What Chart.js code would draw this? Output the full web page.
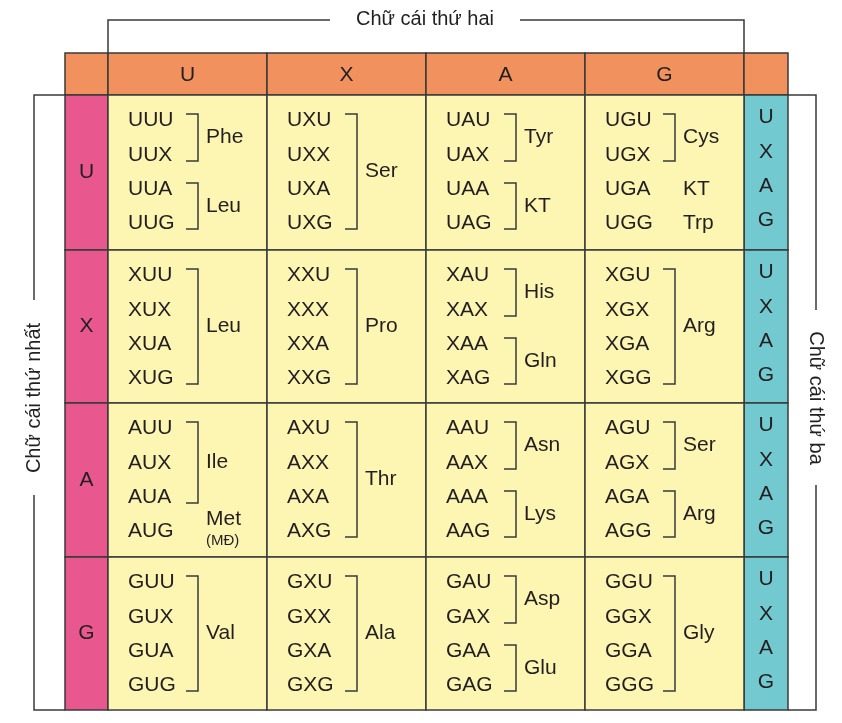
<!DOCTYPE html>
<html lang="vi">
<head>
<meta charset="UTF-8">
<title>Bảng mã di truyền</title>
<script src="https://cdn.jsdelivr.net/npm/chart.js"></script>
<style>
  html, body { margin: 0; padding: 0; background: #fff; }
  #wrap { width: 842px; height: 723px; }
</style>
</head>
<body>
<div id="wrap"><canvas id="codeChart"></canvas></div>
<script>
// data
const bases = ['U', 'X', 'A', 'G'];
const topTitle = 'Chữ cái thứ hai';
const leftTitle = 'Chữ cái thứ nhất';
const rightTitle = 'Chữ cái thứ ba';
// amino acid groups per [first][second]: [fromIndex, toIndex, label, subLabel]
const aminoGroups = [
  [ [[0,1,'Phe'],[2,3,'Leu']], [[0,3,'Ser']], [[0,1,'Tyr'],[2,3,'KT']], [[0,1,'Cys'],[2,2,'KT'],[3,3,'Trp']] ],
  [ [[0,3,'Leu']], [[0,3,'Pro']], [[0,1,'His'],[2,3,'Gln']], [[0,3,'Arg']] ],
  [ [[0,2,'Ile'],[3,3,'Met','(MĐ)']], [[0,3,'Thr']], [[0,1,'Asn'],[2,3,'Lys']], [[0,1,'Ser'],[2,3,'Arg']] ],
  [ [[0,3,'Val']], [[0,3,'Ala']], [[0,1,'Asp'],[2,3,'Glu']], [[0,3,'Gly']] ]
];

// layout (pixel units on the chart's own scales)
const colEdges = [65, 108, 267, 426, 585, 744, 788];
const rowEdges = [53, 95, 250, 403, 557, 710];
const codonOffsets = [25, 60, 94, 128];
const colors = { orange: '#F0915E', pink: '#E8588F', cyan: '#72C9CF', yellow: '#FDF5B2', line: '#3a3a3a', text: '#231f20' };
const FONT = '"Liberation Sans", Arial, sans-serif';

const tablePlugin = {
  id: 'codeTable',
  afterDatasetsDraw(chart) {
    const ctx = chart.ctx, sx = chart.scales.x, sy = chart.scales.y;
    const X = v => sx.getPixelForValue(v), Y = v => sy.getPixelForValue(v);
    const rect = (x0, y0, x1, y1, fill) => {
      ctx.fillStyle = fill;
      ctx.fillRect(X(x0), Y(y0), X(x1) - X(x0), Y(y1) - Y(y0));
      ctx.strokeStyle = colors.line; ctx.lineWidth = 1.5;
      ctx.strokeRect(X(x0), Y(y0), X(x1) - X(x0), Y(y1) - Y(y0));
    };
    const line = pts => {
      ctx.beginPath();
      pts.forEach((p, i) => i ? ctx.lineTo(X(p[0]), Y(p[1])) : ctx.moveTo(X(p[0]), Y(p[1])));
      ctx.stroke();
    };
    const text = (s, x, y, size, align, rot) => {
      ctx.save();
      ctx.translate(X(x), Y(y));
      if (rot) ctx.rotate(rot);
      ctx.font = size + 'px ' + FONT;
      ctx.fillStyle = colors.text;
      ctx.textAlign = align || 'center';
      ctx.textBaseline = 'middle';
      ctx.fillText(s, 0, 0);
      ctx.restore();
    };

    ctx.save();
    // header row
    for (let c = 0; c < 6; c++) rect(colEdges[c], rowEdges[0], colEdges[c + 1], rowEdges[1], colors.orange);
    bases.forEach((b, i) => text(b, (colEdges[i + 1] + colEdges[i + 2]) / 2, 75, 21));

    for (let r = 0; r < 4; r++) {
      const top = rowEdges[r + 1], bot = rowEdges[r + 2];
      rect(colEdges[0], top, colEdges[1], bot, colors.pink);
      text(bases[r], (colEdges[0] + colEdges[1]) / 2, (top + bot) / 2, 21);
      rect(colEdges[5], top, colEdges[6], bot, colors.cyan);
      bases.forEach((b, k) => text(b, (colEdges[5] + colEdges[6]) / 2, top + codonOffsets[k] - 3, 21));

      for (let c = 0; c < 4; c++) {
        const left = colEdges[c + 1];
        rect(left, top, colEdges[c + 2], bot, colors.yellow);
        bases.forEach((b, k) => text(bases[r] + bases[c] + b, left + 20, top + codonOffsets[k], 21, 'left'));
        ctx.strokeStyle = colors.line; ctx.lineWidth = 1.5;
        aminoGroups[r][c].forEach(g => {
          const y0 = top + codonOffsets[g[0]], y1 = top + codonOffsets[g[1]];
          const bx = left + 90;
          if (g[1] > g[0]) {
            line([[left + 78, y0 - 6], [bx, y0 - 6], [bx, y1 + 6], [left + 78, y1 + 6]]);
            text(g[2], left + 98, (y0 + y1) / 2, 21, 'left');
          } else if (g[3]) {
            text(g[2], left + 98, y0 - 12, 21, 'left');
            text(g[3], left + 98, y0 + 10, 15, 'left');
          } else {
            text(g[2], left + 98, y0, 21, 'left');
          }
        });
      }
    }

    // outer brackets and titles
    ctx.strokeStyle = colors.line; ctx.lineWidth = 1.5;
    line([[108, 53], [108, 20], [330, 20]]);
    line([[520, 20], [744, 20], [744, 53]]);
    text(topTitle, 425, 19, 20);
    line([[65, 95], [34, 95], [34, 300]]);
    line([[34, 495], [34, 710], [65, 710]]);
    text(leftTitle, 34, 398, 20, 'center', -Math.PI / 2);
    line([[788, 95], [816, 95], [816, 310]]);
    line([[816, 485], [816, 710], [788, 710]]);
    text(rightTitle, 816, 398, 20, 'center', Math.PI / 2);
    ctx.restore();
  }
};

new Chart(document.getElementById('codeChart'), {
  type: 'scatter',
  data: { datasets: [{ data: [], pointRadius: 0 }] },
  options: {
    responsive: true,
    maintainAspectRatio: false,
    animation: false,
    layout: { padding: 0 },
    plugins: { legend: { display: false }, tooltip: { enabled: false } },
    scales: {
      x: { type: 'linear', min: 0, max: 842, display: false },
      y: { type: 'linear', min: 0, max: 723, reverse: true, display: false }
    }
  },
  plugins: [tablePlugin]
});
</script>
</body>
</html>
